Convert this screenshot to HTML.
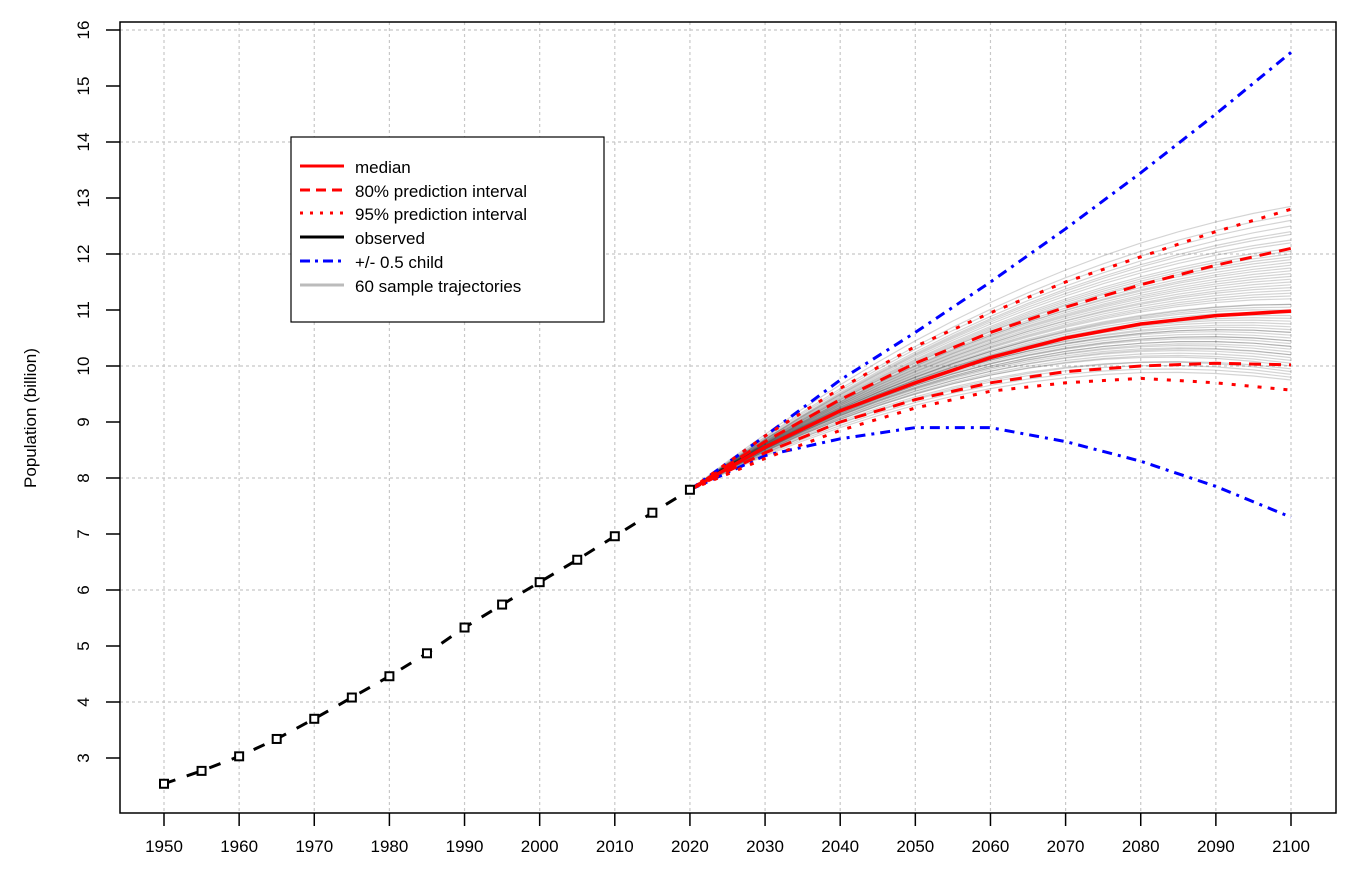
<!DOCTYPE html>
<html><head><meta charset="utf-8"><style>
html,body{margin:0;padding:0;background:#fff;}
svg{display:block;font-family:"Liberation Sans",Arial,sans-serif;}
</style></head><body>
<svg id="chart" width="1354" height="872" viewBox="0 0 1354 872">
<g id="grid"></g>
<g id="traj"></g>
<g id="series"></g>
<rect x="120" y="22" width="1216" height="791" fill="none" stroke="#000" stroke-width="1.5"/>
<g id="axes"></g>
<text x="0" y="0" transform="translate(36,418) rotate(-90)" text-anchor="middle" font-size="17" fill="#000">Population (billion)</text>
<g>
<rect x="291" y="137" width="313" height="185" fill="#fff" stroke="#000" stroke-width="1.2"/>
<g><line x1="300" y1="166" x2="344" y2="166" stroke="#f00" stroke-width="3"/><text x="355" y="173" font-size="17">median</text></g>
<g><line x1="300" y1="190" x2="344" y2="190" stroke="#f00" stroke-width="3" stroke-dasharray="10,6"/><text x="355" y="197" font-size="17">80% prediction interval</text></g>
<g><line x1="300" y1="213" x2="344" y2="213" stroke="#f00" stroke-width="3" stroke-dasharray="3,7"/><text x="355" y="220" font-size="17">95% prediction interval</text></g>
<g><line x1="300" y1="237" x2="344" y2="237" stroke="#000" stroke-width="3"/><text x="355" y="244" font-size="17">observed</text></g>
<g><line x1="300" y1="261" x2="344" y2="261" stroke="#00f" stroke-width="3" stroke-dasharray="10,5,3,5"/><text x="355" y="268" font-size="17">+/- 0.5 child</text></g>
<g><line x1="300" y1="285" x2="344" y2="285" stroke="#bbb" stroke-width="3"/><text x="355" y="292" font-size="17">60 sample trajectories</text></g>
</g>
</svg>
<script>
const xTicks=[1950,1960,1970,1980,1990,2000,2010,2020,2030,2040,2050,2060,2070,2080,2090,2100];
const yTicks=[3,4,5,6,7,8,9,10,11,12,13,14,15,16];
const obsYears=[1950,1955,1960,1965,1970,1975,1980,1985,1990,1995,2000,2005,2010,2015,2020];
const obsValues=[2.54,2.77,3.03,3.34,3.70,4.08,4.46,4.87,5.33,5.74,6.14,6.54,6.96,7.38,7.79];
const projYears=[2020,2030,2040,2050,2060,2070,2080,2090,2100];
const medianValues=[7.79,8.55,9.2,9.7,10.15,10.5,10.75,10.9,10.98];
const pi80Upper=[7.79,8.65,9.4,10.05,10.6,11.05,11.45,11.8,12.1];
const pi80Lower=[7.79,8.45,9.0,9.4,9.7,9.9,10.0,10.05,10.02];
const pi95Upper=[7.79,8.75,9.6,10.35,10.95,11.5,11.95,12.4,12.8];
const pi95Lower=[7.79,8.35,8.85,9.25,9.55,9.7,9.78,9.7,9.57];
const childUpper=[7.79,8.75,9.75,10.6,11.5,12.45,13.45,14.5,15.6];
const childLower=[7.79,8.4,8.7,8.9,8.9,8.65,8.3,7.85,7.3];
const traj2050=[9.3,9.35,9.4,9.42,9.45,9.5,9.5,9.52,9.55,9.55,9.58,9.6,9.6,9.62,9.62,9.65,9.65,9.66,9.68,9.7,9.7,9.7,9.72,9.72,9.74,9.75,9.75,9.76,9.78,9.8,9.8,9.8,9.82,9.84,9.85,9.86,9.88,9.9,9.9,9.92,9.94,9.95,9.96,9.98,10.0,10.0,10.02,10.05,10.06,10.08,10.1,10.12,10.15,10.18,10.2,10.22,10.25,10.3,10.35,10.45];
const traj2100=[9.75,9.8,9.85,9.95,9.9,10.0,10.05,10.1,10.15,10.2,10.2,10.25,10.3,10.35,10.35,10.4,10.45,10.45,10.5,10.55,10.6,10.6,10.65,10.7,10.75,10.8,10.85,10.9,10.95,11.0,11.05,11.1,11.1,11.2,11.25,11.3,11.35,11.4,11.45,11.5,11.55,11.6,11.65,11.7,11.75,11.8,11.85,11.9,11.95,12.0,12.05,12.1,12.2,12.25,12.35,12.4,12.5,12.6,12.7,12.85];
const NS='http://www.w3.org/2000/svg';
const X=y=>164+(y-1950)*(1291-164)/150;
const Y=v=>758-(v-3)*(758-30)/13;
function mk(tag,attrs,parent){const e=document.createElementNS(NS,tag);for(const k in attrs)e.setAttribute(k,attrs[k]);parent.appendChild(e);return e;}
const grid=document.getElementById('grid'),axes=document.getElementById('axes'),ser=document.getElementById('series'),tr=document.getElementById('traj');
xTicks.forEach(t=>{
 const g=mk('line',{x1:X(t),x2:X(t),y1:22,y2:813,stroke:'#c8c8c8','stroke-width':1.2,'stroke-dasharray':'3,3'},grid);
 
 
 const tk=mk('line',{x1:X(t),x2:X(t),y1:813,y2:826,stroke:'#000','stroke-width':1.5},axes);
 
 
 const lb=mk('text',{x:X(t),y:852,'text-anchor':'middle','font-size':17},axes);lb.textContent=t;
 
 
});
yTicks.forEach(t=>{
 if(t%2===0){const g=mk('line',{x1:120,x2:1336,y1:Y(t),y2:Y(t),stroke:'#c8c8c8','stroke-width':1.2,'stroke-dasharray':'3,3'},grid);
 
 }
 const tk=mk('line',{x1:106,x2:120,y1:Y(t),y2:Y(t),stroke:'#000','stroke-width':1.5},axes);
 
 
 const lb=mk('text',{x:0,y:0,transform:`translate(89,${Y(t)}) rotate(-90)`,'text-anchor':'middle','font-size':17},axes);lb.textContent=t;
 
 
});
traj2050.forEach((m,i)=>{
 const e=traj2100[i],a=7.79;
 const pts=[];
 for(let yr=2020;yr<=2100;yr+=5){
  const t=yr;
  const v=a*((t-2050)*(t-2100))/((2020-2050)*(2020-2100))+m*((t-2020)*(t-2100))/((2050-2020)*(2050-2100))+e*((t-2020)*(t-2050))/((2100-2020)*(2100-2050));
  pts.push(X(yr).toFixed(1)+','+Y(v).toFixed(1));
 }
 const p=mk('polyline',{points:pts.join(' '),fill:'none',stroke:'rgba(0,0,0,0.17)','stroke-width':1.2},tr);
 
 
});
function line(years,vals,color,dash,name,w){
 const p=mk('polyline',{points:years.map((y,i)=>X(y)+','+Y(vals[i])).join(' '),fill:'none',stroke:color,'stroke-width':w||3,'stroke-dasharray':dash||'none'},ser);
 
 
}
line(projYears,childUpper,'#00f','10,6,3,6','child-upper-line');
line(projYears,childLower,'#00f','10,6,3,6','child-lower-line');
line(projYears,pi95Upper,'#f00','4,9','pi95-upper-line');
line(projYears,pi95Lower,'#f00','4,9','pi95-lower-line');
line(projYears,pi80Upper,'#f00','12,8','pi80-upper-line');
line(projYears,pi80Lower,'#f00','12,8','pi80-lower-line');
line(projYears,medianValues,'#f00','','median-line',3.5);
line(obsYears,obsValues,'#000','12,12','observed-line');
obsYears.forEach((y,i)=>{
 const r=mk('rect',{x:X(y)-4,y:Y(obsValues[i])-4,width:8,height:8,fill:'#fff',stroke:'#000','stroke-width':2},ser);
 
 
});
</script>
</body></html>
